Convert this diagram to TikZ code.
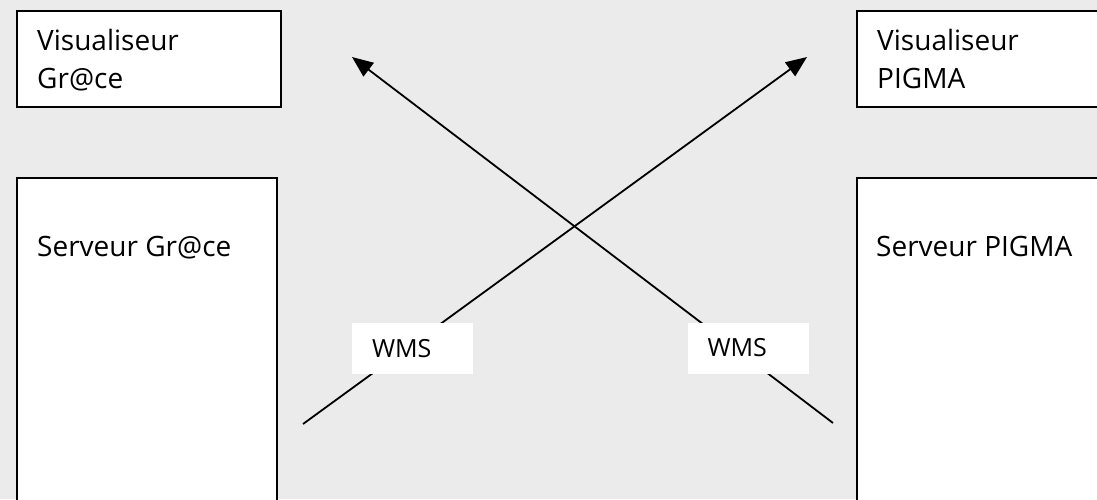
\documentclass[tikz,border=0pt]{standalone}
\usepackage{fontspec}
\setmainfont{Open Sans}
\usepackage{xcolor}
\usepackage{tikz}
\usetikzlibrary{positioning,calc,arrows.meta}
\definecolor{FondGris}{RGB}{235,235,235}
\tikzset{
    boite/.style={rectangle, draw=black, fill=white, line width=1.6pt, inner sep=0pt, anchor=north west},
    texte/.style={font=\fontsize{28}{38}\selectfont, align=left, inner sep=0pt, anchor=base west},
    fleche/.style={-{Triangle[length=21pt, width=17pt]}, line width=1.8pt}
}
\begin{document}
\begin{tikzpicture}[
        x=1pt, y=-1pt,
        % Style pour les etiquettes WMS: fond blanc, sans bordure
        etiquette/.style={
            rectangle,
            fill=white,
            font=\fontsize{25}{30}\selectfont,
            text width=81pt,
            inner xsep=20pt,
            minimum height=51pt,
            align=left
        }
    ]

        % --- FOND ---
        \fill[FondGris] (0,0) rectangle (1097,499);
        \useasboundingbox (0,0) rectangle (1097,499);
        \clip (0,0) rectangle (1097,499);

        % --- BOITES ---
        % Cote Gr@ce
        \node[boite, minimum width=264pt, minimum height=96pt] (visgrace) at (16,10) {};
        \node[boite, minimum width=260pt, minimum height=340pt] (servgrace) at (16,177) {};
        % Cote PIGMA
        \node[boite, minimum width=264pt, minimum height=96pt] (vispigma) at (856,10) {};
        \node[boite, minimum width=264pt, minimum height=340pt] (servpigma) at (856,177) {};

        % --- TEXTES ---
        % (ancre base west = ligne de base de la derniere ligne)
        \node[texte] (tvisgrace) at ($(visgrace.north west)+(21,78)$) {Visualiseur\\Gr@ce};
        \node[texte] (tservgrace) at ($(servgrace.north west)+(21,79)$) {Serveur Gr@ce};
        \node[texte] (tvispigma) at ($(vispigma.north west)+(21,78)$) {Visualiseur\\PIGMA};
        \node[texte] (tservpigma) at ($(servpigma.north west)+(20,79)$) {Serveur PIGMA};

        % --- FLECHES ---
        \coordinate (depgrace) at (303,424);
        \coordinate (arrpigma) at (807,57);
        \coordinate (deppigma) at (833,423);
        \coordinate (arrgrace) at (352,57);
        \draw[fleche] (depgrace) -- (arrpigma);
        \draw[fleche] (deppigma) -- (arrgrace);

        % Etiquettes WMS (par-dessus les fleches)
        \node[etiquette] (wmsgauche) at (412.5,348.5) {WMS};
        \node[etiquette] (wmsdroite) at (748,348) {WMS};

    \end{tikzpicture}
\end{document}
